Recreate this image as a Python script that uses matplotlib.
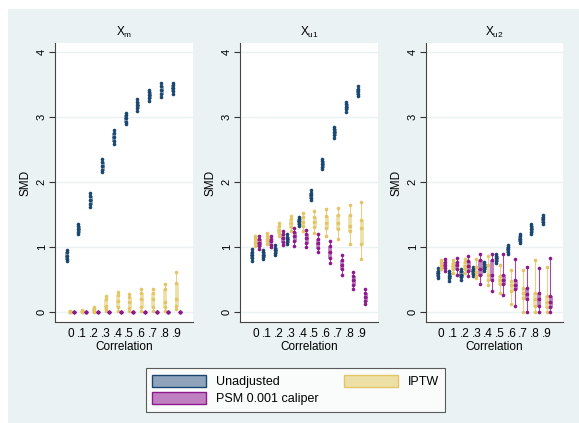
import numpy as np
import matplotlib.pyplot as plt
from matplotlib.patches import Patch, Rectangle

plt.rcParams["font.family"] = ["Liberation Sans", "DejaVu Sans"]

# correlation groups
corr_labels = ["0", ".1", ".2", ".3", ".4", ".5", ".6", ".7", ".8", ".9"]
panel_titles = [r"X$_\mathregular{m}$", r"X$_\mathregular{u1}$", r"X$_\mathregular{u2}$"]

# five-number summaries (min, q1, median, q3, max)
xm_unadj = [(0.79, 0.82, 0.87, 0.93, 0.96), (1.20, 1.23, 1.28, 1.33, 1.36),
            (1.62, 1.66, 1.72, 1.78, 1.83), (2.15, 2.19, 2.25, 2.31, 2.35),
            (2.58, 2.63, 2.70, 2.76, 2.80), (2.89, 2.93, 2.98, 3.03, 3.07),
            (3.10, 3.14, 3.19, 3.24, 3.28), (3.25, 3.29, 3.34, 3.39, 3.42),
            (3.31, 3.35, 3.42, 3.48, 3.53), (3.36, 3.40, 3.45, 3.50, 3.53)]
xm_iptw = [(0.00, 0.005, 0.01, 0.015, 0.02), (0.01, 0.015, 0.02, 0.025, 0.03),
           (0.00, 0.01, 0.03, 0.06, 0.08), (0.02, 0.05, 0.10, 0.20, 0.25),
           (0.02, 0.08, 0.18, 0.27, 0.31), (0.02, 0.06, 0.15, 0.23, 0.28),
           (0.02, 0.08, 0.20, 0.30, 0.36), (0.02, 0.08, 0.20, 0.30, 0.36),
           (0.02, 0.08, 0.15, 0.36, 0.44), (0.05, 0.10, 0.20, 0.45, 0.62)]
xm_psm = [(0.0, 0.0, 0.0, 0.002, 0.004)] * 10

xu1_unadj = [(0.79, 0.83, 0.88, 0.93, 0.97), (0.82, 0.85, 0.88, 0.92, 0.95),
             (0.88, 0.91, 0.95, 0.99, 1.03), (1.05, 1.08, 1.12, 1.16, 1.20),
             (1.33, 1.36, 1.40, 1.44, 1.47), (1.72, 1.76, 1.80, 1.84, 1.88),
             (2.20, 2.24, 2.28, 2.32, 2.35), (2.68, 2.72, 2.77, 2.82, 2.85),
             (3.08, 3.12, 3.16, 3.20, 3.23), (3.32, 3.36, 3.40, 3.44, 3.48)]
xu1_iptw = [(1.02, 1.06, 1.10, 1.14, 1.17), (1.05, 1.09, 1.13, 1.17, 1.22),
            (1.17, 1.22, 1.27, 1.32, 1.37), (1.25, 1.31, 1.37, 1.43, 1.48),
            (1.25, 1.32, 1.38, 1.46, 1.52), (1.22, 1.31, 1.38, 1.47, 1.55),
            (1.18, 1.29, 1.37, 1.48, 1.58), (1.13, 1.28, 1.37, 1.50, 1.60),
            (1.05, 1.25, 1.33, 1.50, 1.65), (0.82, 1.05, 1.30, 1.42, 1.70)]
xu1_psm = [(0.97, 1.02, 1.07, 1.12, 1.17), (1.00, 1.04, 1.09, 1.13, 1.17),
           (1.03, 1.08, 1.14, 1.20, 1.25), (1.02, 1.09, 1.17, 1.24, 1.30),
           (1.00, 1.07, 1.14, 1.21, 1.27), (0.92, 0.99, 1.06, 1.13, 1.20),
           (0.76, 0.84, 0.93, 1.02, 1.10), (0.58, 0.66, 0.73, 0.81, 0.88),
           (0.35, 0.42, 0.49, 0.56, 0.62), (0.12, 0.18, 0.23, 0.29, 0.35)]

xu2_unadj = [(0.52, 0.56, 0.60, 0.64, 0.68), (0.48, 0.52, 0.56, 0.60, 0.63),
             (0.50, 0.54, 0.58, 0.63, 0.67), (0.55, 0.59, 0.63, 0.67, 0.70),
             (0.63, 0.67, 0.70, 0.74, 0.78), (0.75, 0.79, 0.83, 0.87, 0.90),
             (0.89, 0.93, 0.97, 1.01, 1.04), (1.06, 1.10, 1.13, 1.17, 1.20),
             (1.20, 1.24, 1.28, 1.32, 1.35), (1.35, 1.39, 1.43, 1.47, 1.50)]
xu2_iptw = [(0.66, 0.69, 0.72, 0.76, 0.80), (0.60, 0.66, 0.71, 0.75, 0.80),
            (0.60, 0.66, 0.71, 0.77, 0.82), (0.52, 0.56, 0.62, 0.70, 0.82),
            (0.42, 0.50, 0.58, 0.72, 0.86), (0.29, 0.44, 0.50, 0.56, 0.73),
            (0.12, 0.33, 0.42, 0.48, 0.65), (0.00, 0.22, 0.30, 0.38, 0.65),
            (0.00, 0.10, 0.20, 0.30, 0.80), (0.00, 0.08, 0.15, 0.25, 0.70)]
xu2_psm = [(0.63, 0.68, 0.72, 0.77, 0.82), (0.58, 0.66, 0.72, 0.78, 0.83),
           (0.55, 0.64, 0.71, 0.79, 0.86), (0.43, 0.58, 0.66, 0.80, 0.90),
           (0.33, 0.50, 0.58, 0.80, 0.90), (0.26, 0.43, 0.50, 0.58, 0.90),
           (0.10, 0.35, 0.42, 0.50, 0.82), (0.00, 0.20, 0.28, 0.37, 0.70),
           (0.00, 0.10, 0.20, 0.30, 0.68), (0.00, 0.08, 0.15, 0.25, 0.83)]

panels = [
    [xm_unadj, xm_iptw, xm_psm],
    [xu1_unadj, xu1_iptw, xu1_psm],
    [xu2_unadj, xu2_iptw, xu2_psm],
]

method_names = ["Unadjusted", "IPTW", "PSM 0.001 caliper"]
line_cols = ["#1a476f", "#e3c565", "#8c1a8c"]
fill_cols = ["#8fa4bb", "#ede0a6", "#c07fc0"]
offsets = [-0.31, 0.0, 0.31]

bg = "#eaf2f3"
fig = plt.figure(figsize=(5.79, 4.23), dpi=100, facecolor="white")
fig.patches.append(Rectangle((8 / 579, 0), 1, 1 - 9 / 423, transform=fig.transFigure,
                             facecolor=bg, edgecolor="none", zorder=-10))

lefts = [55, 240, 426]
widths = [138, 138, 137]
pos = np.arange(len(corr_labels))

for k, (L, W) in enumerate(zip(lefts, widths)):
    ax = fig.add_axes([L / 579, (423 - 322) / 423, W / 579, 279 / 423])
    ax.set_facecolor("white")
    for m in range(3):
        stats = []
        for s in panels[k][m]:
            stats.append(dict(whislo=s[0], q1=s[1], med=s[2], q3=s[3], whishi=s[4], fliers=[]))
        xs = pos + offsets[m]
        ax.bxp(stats, positions=xs, widths=0.26, patch_artist=True, showcaps=False,
               boxprops=dict(facecolor=fill_cols[m], edgecolor=fill_cols[m], linewidth=0.6),
               whiskerprops=dict(color=line_cols[m], linewidth=0.8, alpha=0.8),
               medianprops=dict(color=line_cols[m], linewidth=1.0),
               manage_ticks=False, zorder=3)
        for x, s in zip(xs, panels[k][m]):
            ax.plot([x] * 5, s, "o", color=line_cols[m], markersize=2.6,
                    markeredgewidth=0, zorder=4)
    ax.set_xlim(-1.3, 10.4)
    ax.set_ylim(-0.15, 4.14)
    ax.set_yticks([0, 1, 2, 3, 4])
    ax.set_yticklabels(["0", "1", "2", "3", "4"], rotation=90, va="center", fontsize=8)
    ax.set_xticks(pos)
    ax.set_xticklabels(corr_labels, fontsize=8.5)
    ax.tick_params(axis="x", length=0, pad=4)
    ax.tick_params(axis="y", length=4, width=0.8, color="#333333", pad=2)
    ax.grid(axis="y", color=bg, linewidth=1.0, zorder=0)
    ax.set_axisbelow(True)
    for sp in ["top", "right"]:
        ax.spines[sp].set_visible(False)
    for sp in ["left", "bottom"]:
        ax.spines[sp].set_color("#444444")
        ax.spines[sp].set_linewidth(0.8)
    ax.set_title(panel_titles[k], fontsize=8.5, pad=5)
    ax.set_ylabel("SMD", fontsize=8.5, labelpad=4)
    ax.set_xlabel("Correlation", fontsize=8.5, labelpad=1)

handles = [Patch(facecolor=fill_cols[m], edgecolor=line_cols[m], linewidth=1.0, label=method_names[m])
           for m in [0, 2, 1]]
leg = fig.legend(handles=handles, ncol=2, loc="center", bbox_to_anchor=(295.5 / 579, 1 - 390 / 423),
                 fontsize=9, frameon=True, fancybox=False, edgecolor="#333333",
                 handlelength=4.3, handleheight=1.1, columnspacing=2.0, borderpad=0.5,
                 labelspacing=0.35, handletextpad=0.8)
leg.get_frame().set_linewidth(0.8)

fig.savefig("out.png", dpi=100, facecolor="white")
